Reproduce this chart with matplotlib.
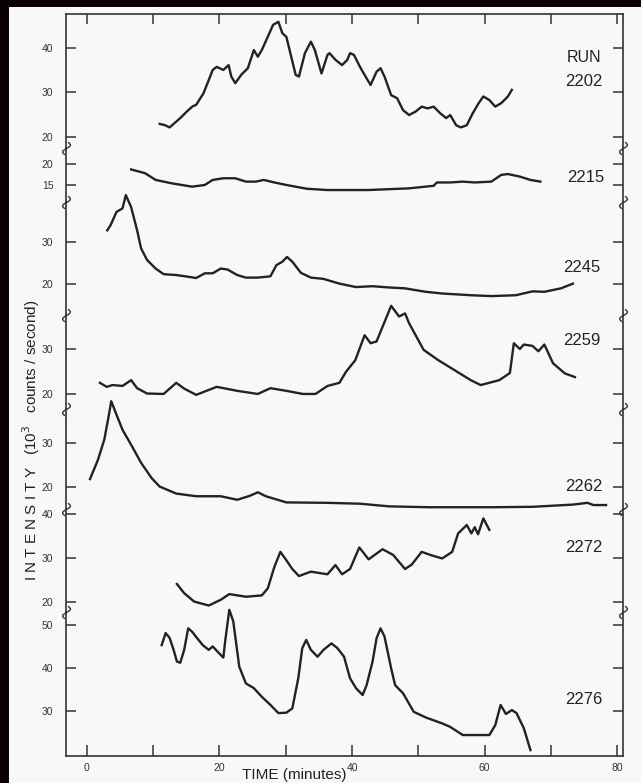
import numpy as np
import matplotlib
matplotlib.use("Agg")
import matplotlib.pyplot as plt
from matplotlib.path import Path
from matplotlib.patches import Rectangle

# ---------------- data (minutes, 10^3 counts/second) ----------------
t_2202 = [11.0, 11.8, 12.5, 14.1, 15.1, 16.0, 16.5, 17.6, 18.4, 19.0,
          19.6, 20.6, 21.4, 21.8, 22.4, 23.3, 24.3, 25.2, 25.8, 26.4,
          27.3, 28.1, 28.9, 29.5, 30.1, 30.9, 31.5, 32.0, 32.9, 33.8,
          34.4, 35.4, 36.3, 36.6, 37.5, 38.5, 39.3, 39.7, 40.3, 41.2,
          42.2, 42.8, 43.7, 44.3, 44.9, 45.9, 46.8, 47.7, 48.6, 49.6,
          50.5, 51.4, 52.3, 53.3, 54.2, 54.8, 55.7, 56.4, 57.3, 58.2,
          59.1, 59.8, 60.7, 61.6, 62.5, 63.5, 64.1]
v_2202 = [22.9, 22.6, 22.1, 24.2, 25.7, 26.9, 27.2, 29.8, 32.8, 35.1,
          35.8, 35.1, 36.2, 33.6, 32.1, 34.0, 35.5, 39.6, 38.1, 39.6,
          42.6, 45.3, 46.0, 43.4, 42.6, 37.7, 34.0, 33.6, 38.9, 41.5,
          39.6, 34.3, 38.5, 38.9, 37.4, 36.2, 37.4, 38.9, 38.5, 35.8,
          33.2, 31.7, 34.7, 35.5, 33.6, 29.4, 28.7, 26.0, 24.9, 25.7,
          26.8, 26.4, 26.8, 25.3, 24.2, 24.9, 22.6, 22.1, 22.6, 25.3,
          27.6, 29.1, 28.3, 26.8, 27.6, 29.1, 30.6]

t_2215 = [6.7, 8.8, 10.4, 12.8, 15.9, 17.8, 19.0, 20.6, 22.4, 24.0,
          25.5, 26.7, 28.3, 30.1, 33.2, 36.3, 42.5, 48.6, 52.3, 52.8,
          54.8, 56.7, 58.5, 61.0, 62.5, 63.5, 65.3, 66.9, 68.4]
v_2215 = [18.7, 17.8, 16.2, 15.4, 14.6, 15.0, 16.2, 16.6, 16.6, 15.8,
          15.8, 16.2, 15.6, 15.0, 14.1, 13.8, 13.8, 14.2, 14.8, 15.6,
          15.6, 15.8, 15.6, 15.8, 17.4, 17.6, 17.0, 16.2, 15.8]

t_2245 = [3.1, 3.6, 4.5, 5.4, 5.9, 6.7, 7.6, 8.2, 9.1, 10.4,
          11.6, 13.5, 15.3, 16.5, 17.8, 19.0, 20.2, 21.2, 22.7, 24.0,
          25.8, 27.7, 28.6, 29.5, 30.2, 31.0, 32.3, 33.8, 35.7, 38.1,
          40.6, 43.1, 45.6, 48.0, 51.1, 53.6, 57.9, 61.0, 64.7, 67.2,
          69.0, 71.5, 73.3]
v_2245 = [32.6, 33.8, 36.9, 37.7, 40.8, 38.0, 32.6, 28.4, 25.7, 23.7,
          22.4, 22.2, 21.8, 21.5, 22.6, 22.6, 23.7, 23.5, 22.2, 21.6,
          21.6, 21.9, 24.5, 25.3, 26.4, 25.3, 22.7, 21.6, 21.3, 20.2,
          19.4, 19.6, 19.3, 19.1, 18.3, 17.9, 17.5, 17.3, 17.5, 18.4,
          18.3, 19.1, 20.2]

t_2259 = [2.0, 3.0, 3.9, 5.4, 6.7, 7.6, 9.1, 11.6, 13.5, 14.7,
          16.5, 19.6, 22.7, 25.8, 27.7, 30.1, 32.6, 34.5, 36.3, 38.1,
          39.1, 40.5, 41.9, 42.8, 43.7, 45.9, 47.1, 48.0, 48.6, 50.8,
          53.0, 55.4, 57.9, 59.4, 62.2, 63.8, 64.4, 65.3, 65.9, 67.2,
          68.1, 69.0, 70.3, 72.1, 73.6]
v_2259 = [22.4, 21.5, 21.9, 21.7, 23.0, 21.2, 20.0, 19.9, 22.4, 21.1,
          19.7, 21.5, 20.6, 19.9, 21.2, 20.6, 19.9, 19.9, 21.7, 22.4,
          24.9, 27.5, 33.1, 31.3, 31.7, 39.7, 37.3, 38.0, 35.8, 29.8,
          27.5, 25.3, 23.0, 21.9, 23.0, 24.6, 31.3, 30.0, 31.0, 30.7,
          29.5, 31.0, 26.8, 24.5, 23.7]

t_2262 = [0.5, 1.7, 2.65, 3.3, 3.7, 4.5, 5.4, 6.7, 8.2, 9.8,
          11.0, 13.5, 16.5, 20.2, 22.7, 24.6, 25.8, 27.0, 30.1, 36.3,
          41.2, 45.6, 51.7, 61.0, 67.2, 73.3, 75.5, 76.4, 78.3]
v_2262 = [21.8, 26.2, 30.75, 36.0, 39.5, 36.4, 33.0, 29.6, 25.5, 22.0,
          20.1, 18.5, 17.9, 17.9, 17.1, 18.0, 18.8, 17.9, 16.5, 16.4,
          16.2, 15.6, 15.4, 15.4, 15.5, 16.0, 16.4, 15.9, 15.9]

t_2272 = [13.6, 14.7, 16.2, 18.4, 20.2, 21.5, 24.0, 26.4, 27.3, 28.3,
          29.2, 30.1, 31.0, 32.0, 33.8, 36.3, 37.5, 38.5, 39.7, 40.5,
          41.1, 42.5, 44.6, 46.2, 48.0, 49.0, 50.5, 52.0, 53.6, 55.1,
          56.0, 57.3, 58.0, 58.5, 59.0, 59.8, 60.7]
v_2272 = [24.1, 22.0, 20.1, 19.2, 20.5, 21.8, 21.2, 21.5, 23.1, 28.0,
          31.4, 29.5, 27.5, 25.9, 26.9, 26.3, 28.4, 26.3, 27.5, 30.3,
          32.4, 29.7, 32.0, 30.7, 27.5, 28.5, 31.4, 30.6, 29.9, 31.4,
          35.6, 37.5, 35.6, 37.0, 35.4, 39.0, 36.4]

t_2276 = [11.3, 11.9, 12.5, 13.1, 13.6, 14.1, 14.7, 15.3, 15.9, 16.5,
          17.5, 18.4, 19.0, 19.9, 20.6, 20.9, 21.5, 22.1, 23.0, 24.0,
          25.2, 26.4, 27.7, 28.9, 30.1, 31.0, 31.9, 32.5, 33.1, 33.8,
          34.8, 35.7, 36.9, 37.8, 38.8, 39.7, 40.6, 41.6, 42.2, 43.1,
          43.7, 44.3, 44.9, 45.9, 46.5, 47.7, 49.3, 51.1, 53.6, 54.8,
          56.7, 58.5, 60.7, 61.6, 62.4, 63.2, 64.1, 64.8, 65.9, 66.9]
v_2276 = [45.3, 48.1, 47.0, 44.2, 41.5, 41.2, 44.2, 49.2, 48.4, 47.2,
          45.3, 44.2, 45.0, 43.5, 42.4, 46.5, 53.5, 50.8, 40.3, 36.4,
          35.3, 33.3, 31.4, 29.5, 29.6, 30.6, 37.6, 44.6, 46.5, 44.2,
          42.6, 44.2, 45.7, 44.6, 42.6, 37.6, 35.3, 33.7, 36.0, 41.5,
          46.9, 49.2, 47.3, 39.9, 36.0, 34.1, 29.8, 28.5, 27.1, 26.3,
          24.4, 24.4, 24.4, 26.7, 31.4, 29.3, 30.2, 29.5, 26.0, 20.9]

run_names = ["2202", "2215", "2245", "2259", "2262", "2272", "2276"]
run_times = [t_2202, t_2215, t_2245, t_2259, t_2262, t_2272, t_2276]
run_values = [v_2202, v_2215, v_2245, v_2259, v_2262, v_2272, v_2276]
panel_yticks = [[20, 30, 40], [15, 20], [20, 30], [20, 30], [20, 30], [20, 30, 40], [30, 40, 50]]
x_major = [0, 20, 40, 60, 80]
x_minor = [10, 30, 50, 70]

# ---------------- layout ----------------
W, H = 641, 783
INK = "#222222"
PAPER = "#f8f8f6"
plt.rcParams["font.family"] = ["Liberation Sans", "DejaVu Sans"]

fig = plt.figure(figsize=(W / 100, H / 100), dpi=100, facecolor="#0a0006")
fig.patches.append(Rectangle((9 / W, 0), 1, 1 - 7 / H, transform=fig.transFigure,
                             facecolor=PAPER, edgecolor="none", zorder=-10))

panel_px = [(14, 148), (148, 202), (202, 315), (315, 409), (409, 509), (509, 612), (612, 756)]
panel_ylim = [(17.44, 47.76), (10.95, 23.8), (12.9, 39.19), (16.52, 37.64),
              (15.0, 37.73), (17.73, 41.14), (19.53, 53.0)]
x_left, x_right = 66 / W, 623.3 / W
xlim = (-3.12, 80.9)

s = np.linspace(-1, 1, 11)
squiggle = Path(np.column_stack([0.5 * np.sin(np.pi * s) + 0.25 * s, s]))

axes = []
n = len(run_names)
for i in range(n):
    top, bot = panel_px[i]
    ax = fig.add_axes([x_left, 1 - bot / H, x_right - x_left, (bot - top) / H])
    ax.set_zorder(1 + i)
    ax.set_facecolor("none")
    ax.set_xlim(*xlim)
    ax.set_ylim(*panel_ylim[i])
    ax.plot(run_times[i], run_values[i], color=INK, lw=1.7, clip_on=False,
            solid_joinstyle="round")
    for side in ["left", "right", "top", "bottom"]:
        ax.spines[side].set_color("#333333")
        ax.spines[side].set_linewidth(1.2)
    ax.spines["top"].set_visible(i == 0)
    ax.spines["bottom"].set_visible(i == n - 1)
    ax.set_yticks(panel_yticks[i])
    ax.tick_params(axis="y", direction="in", left=True, right=True, length=7,
                   width=1.1, color="#333333", labelsize=7.5, labelcolor="#333333", pad=9)
    if i == 0:
        ax.xaxis.set_ticks_position("top")
        ax.set_xticks(x_major)
        ax.set_xticks(x_minor, minor=True)
        ax.tick_params(axis="x", which="both", direction="in", top=True, bottom=False,
                       length=7, width=1.1, color="#333333", labeltop=False, labelbottom=False)
    elif i == n - 1:
        ax.set_xticks(x_major)
        ax.set_xticks(x_minor, minor=True)
        ax.tick_params(axis="x", which="both", direction="in", top=False, bottom=True,
                       length=8, width=1.1, color="#333333", labelsize=7.5,
                       labelcolor="#333333", pad=5)
    else:
        ax.set_xticks([])
    if i > 0:
        for xx in (0, 1):
            ax.plot([xx], [1], transform=ax.transAxes, marker=squiggle, ms=9,
                    mfc="none", mec="#333333", mew=1.0, clip_on=False, ls="none")
    axes.append(ax)

# run labels
label_px = [(584, 82), (586, 177), (582, 268), (582, 340), (584, 487), (584, 548), (584, 700)]
fig.text(584 / W, 1 - 57 / H, "RUN", fontsize=11.5, color=INK, ha="center", va="center")
for name, (px, py) in zip(run_names, label_px):
    fig.text(px / W, 1 - py / H, name, fontsize=12, color=INK, ha="center", va="center")

fig.text(31 / W, 1 - 440 / H, "I N T E N S I T Y   (10$^3$   counts / second)", rotation=90,
         fontsize=11, color=INK, ha="center", va="center")
fig.text(294 / W, 1 - 775 / H, "TIME (minutes)", fontsize=11, color=INK,
         ha="center", va="center")

fig.savefig("out.png", dpi=100, facecolor=fig.get_facecolor())
